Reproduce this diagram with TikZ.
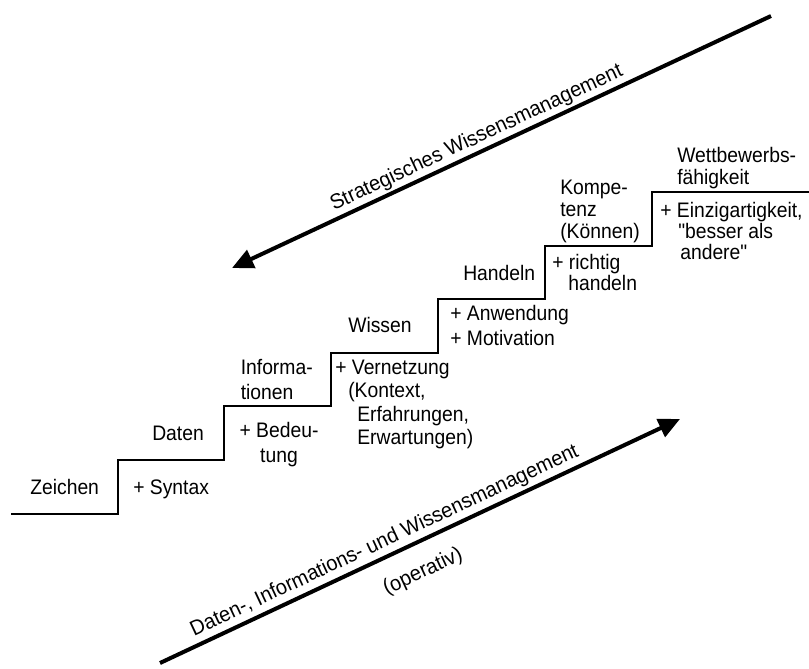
\documentclass[tikz,border=0pt]{standalone}
\usepackage{fontspec}
\setmainfont{Liberation Sans}
\newfontfamily\hf{Liberation Sans}[FakeStretch=0.92]
\newfontfamily\rf{Liberation Sans}[FakeStretch=0.955]
\usetikzlibrary{arrows.meta}
\newcommand\st{\rule{0pt}{11.25pt}}
\newcommand\fz[1]{\hf\fontsize{15.75}{#1}\selectfont}
\begin{document}
\begin{tikzpicture}[x=0.75pt,y=-0.75pt,
  lbl/.style={inner sep=0pt, anchor=north west, align=left, font=\fz{17}},
  lblc/.style={inner sep=0pt, anchor=north, align=center, font=\fz{17}},
  stair/.style={line width=1.2pt, line join=miter},
  bigarrow/.style={line width=3pt, -{Triangle[length=16pt,width=14.5pt]}},
  rot/.style={font=\rf\fontsize{15.75}{18}\selectfont, rotate=25.1, inner sep=0pt}
]
\useasboundingbox (0,0) rectangle (809,668);

% staircase
\draw[stair] (11,514) -- (118,514) -- (118,460) -- (224,460) -- (224,406)
  -- (331,406) -- (331,353) -- (438,353) -- (438,299) -- (545,299)
  -- (545,246) -- (652,246) -- (652,192) -- (809,192);

% step labels
\node[lbl] (zeichen) at (30,479) {\st Zeichen};
\node[lbl] (syntax) at (133,479) {\st + Syntax};
\node[lbl] (daten) at (152,425) {\st Daten};
\node[lblc, font=\fz{18.75}] (bedeutung) at (279,422) {\st + Bedeu-\\tung};
\node[lbl, font=\fz{18.75}] (info) at (240.5,359) {\st Informa-\\tionen};
\node[lbl] (wissen) at (348,317) {\st Wissen};
\node[lbl, font=\fz{17.6}] (vernetzung) at (335,359)
  {\st + Vernetzung\\\hspace*{9.75pt}(Kontext,\\\hspace*{16.5pt}Erfahrungen,\\\hspace*{16.5pt}Erwartungen)};
\node[lbl, font=\fz{18.75}] (anwendung) at (450,305) {\st + Anwendung\\+ Motivation};
\node[lbl] (handeln) at (463,265) {\st Handeln};
\node[lbl, font=\fz{15.75}] (richtig) at (552,254) {\st + richtig\\\hspace*{12pt}handeln};
\node[lbl, font=\fz{16.75}] (kompetenz) at (560,179) {\st Kompe-\\tenz\\(Können)};
\node[lbl, font=\fz{16.5}] (wettbewerb) at (677,147) {\st Wettbewerbs-\\fähigkeit};
\node[lbl, font=\fz{15.75}] (einzig) at (660,202)
  {\st + Einzigartigkeit,\\\hspace*{13.5pt}"besser als\\\hspace*{15pt}andere"};

% arrows
\coordinate (s1) at (771,16);
\coordinate (s2) at (232,268);
\draw[bigarrow] (s1) -- (s2);
\coordinate (o1) at (160,663);
\coordinate (o2) at (680,419);
\draw[bigarrow] (o1) -- (o2);

% arrow labels
\node[rot, anchor=base, rotate=-0.05] (strat) at (479,143) {Strategisches Wissensmanagement};
\node[rot, anchor=base] (dim) at (387,546) {Daten-, Informations- und Wissensmanagement};
\node[rot, anchor=center] (operativ) at (423,572) {(operativ)};
\end{tikzpicture}
\end{document}
